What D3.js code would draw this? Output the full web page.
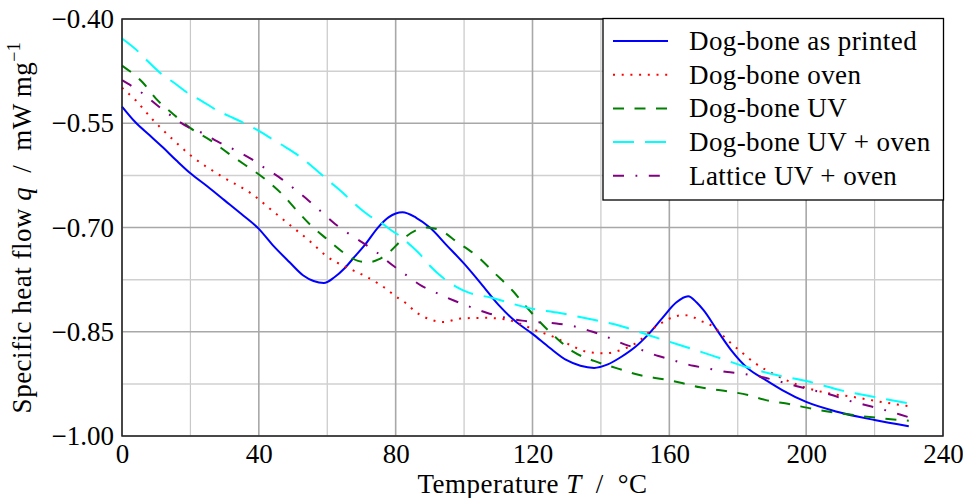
<!DOCTYPE html>
<html>
<head>
<meta charset="utf-8">
<script src="https://cdn.jsdelivr.net/npm/d3@7"></script>
<style>
  html, body { margin: 0; padding: 0; background: #fff; }
  svg { display: block; }
  text { font-family: "Liberation Serif", "Times New Roman", serif; fill: #000; }
</style>
</head>
<body>
<svg id="chart" width="963" height="498"></svg>
<script>
// Temperature axis ticks (°C)
const xMajorTicks = [0, 40, 80, 120, 160, 200, 240];
const xMinorTicks = [20, 60, 100, 140, 180, 220];
// Specific heat flow ticks (mW/mg)
const yMajorTicks = [-1.00, -0.85, -0.70, -0.55, -0.40];
const yMinorTicks = [-0.925, -0.775, -0.625, -0.475];

const seriesNames = ["Dog-bone as printed", "Dog-bone oven", "Dog-bone UV", "Dog-bone UV + oven", "Lattice UV + oven"];

// [temperature, heat flow]
const dogBonePrinted = [[0,-0.526],[4,-0.549],[8,-0.567],[12,-0.585],[16,-0.604],[20,-0.622],[25,-0.641],[30,-0.661],[35,-0.681],[40,-0.702],[44,-0.725],[49,-0.750],[53,-0.769],[56,-0.777],[59,-0.780],[62,-0.772],[65,-0.759],[68,-0.742],[71,-0.725],[75,-0.699],[78,-0.685],[82,-0.678],[86,-0.686],[90,-0.700],[95,-0.726],[100,-0.752],[105,-0.781],[110,-0.811],[115,-0.835],[120,-0.853],[125,-0.873],[130,-0.891],[134,-0.899],[138,-0.902],[142,-0.897],[146,-0.886],[150,-0.872],[154,-0.853],[158,-0.830],[162,-0.808],[165.5,-0.799],[168,-0.808],[170,-0.819],[174,-0.848],[178,-0.876],[183,-0.903],[188,-0.919],[193,-0.934],[200,-0.951],[209,-0.965],[220,-0.977],[230,-0.986]];

const dogBoneOven = [[0,-0.499],[4,-0.517],[9,-0.545],[15,-0.574],[20,-0.596],[29,-0.626],[38,-0.652],[44,-0.676],[50,-0.700],[55,-0.720],[60,-0.742],[66,-0.758],[71.5,-0.771],[76,-0.784],[80,-0.799],[83,-0.809],[86,-0.822],[90,-0.832],[94,-0.836],[99,-0.831],[106,-0.830],[112,-0.832],[116,-0.838],[121,-0.848],[126,-0.857],[131,-0.869],[136,-0.879],[141,-0.881],[146,-0.876],[150,-0.867],[156,-0.843],[161,-0.829],[164,-0.826],[166,-0.827],[169,-0.834],[173,-0.843],[177,-0.862],[181,-0.879],[185,-0.895],[191,-0.912],[199,-0.929],[206,-0.938],[214,-0.944],[222,-0.951],[230,-0.957]];

const dogBoneUV = [[0,-0.467],[6,-0.491],[10,-0.515],[15,-0.537],[20,-0.557],[26,-0.575],[31,-0.593],[36,-0.610],[42,-0.631],[47,-0.653],[51,-0.675],[55,-0.696],[60,-0.717],[65,-0.737],[69,-0.748],[72,-0.750],[75,-0.746],[78,-0.736],[82,-0.717],[86,-0.704],[89,-0.700],[93,-0.704],[98,-0.721],[104,-0.742],[109,-0.766],[114,-0.790],[118,-0.813],[122,-0.835],[127,-0.859],[132,-0.879],[138,-0.892],[145,-0.903],[151,-0.912],[159,-0.919],[163,-0.923],[169,-0.930],[176,-0.935],[183,-0.941],[188,-0.948],[195,-0.954],[202,-0.961],[208,-0.966],[214,-0.970],[221,-0.974],[230,-0.978]];

const dogBoneUVOven = [[0,-0.428],[5,-0.448],[7,-0.458],[12,-0.481],[15,-0.491],[20,-0.509],[23,-0.517],[28,-0.532],[31,-0.539],[37,-0.553],[40,-0.561],[45,-0.576],[48,-0.585],[52,-0.598],[56,-0.614],[60,-0.631],[65,-0.652],[68,-0.666],[72,-0.682],[76,-0.694],[79,-0.705],[81.5,-0.713],[84,-0.724],[87,-0.738],[90,-0.755],[94,-0.773],[98,-0.786],[101,-0.793],[108,-0.801],[119,-0.816],[128,-0.823],[136,-0.831],[146,-0.842],[154,-0.855],[163,-0.869],[173,-0.885],[182,-0.900],[191,-0.912],[201,-0.922],[210,-0.934],[220,-0.944],[230,-0.953]];

const latticeUVOven = [[0,-0.488],[3,-0.497],[6,-0.507],[11,-0.527],[14,-0.538],[19.5,-0.556],[23,-0.563],[29,-0.579],[32,-0.586],[38,-0.602],[41,-0.612],[46.6,-0.630],[49.5,-0.641],[54.5,-0.661],[57.5,-0.674],[62.3,-0.695],[65.4,-0.706],[71,-0.724],[74,-0.734],[79,-0.754],[82.4,-0.766],[87.6,-0.784],[91,-0.792],[97,-0.805],[100.6,-0.812],[106.8,-0.823],[110.5,-0.828],[117,-0.834],[120.7,-0.836],[127,-0.838],[131,-0.841],[137.6,-0.850],[141,-0.856],[148,-0.870],[150.6,-0.874],[156.8,-0.885],[160.4,-0.890],[167,-0.899],[170.4,-0.902],[177,-0.908],[180.6,-0.910],[187,-0.915],[191,-0.920],[197,-0.928],[201,-0.933],[207.5,-0.941],[211,-0.947],[217,-0.955],[221,-0.960],[227.4,-0.969],[230,-0.973]];

const allSeries = [dogBonePrinted, dogBoneOven, dogBoneUV, dogBoneUVOven, latticeUVOven];
const styles = [
  { color: "#0000ff", dash: null },
  { color: "#ff0000", dash: "2,6.7" },
  { color: "#008000", dash: "11,10.5" },
  { color: "#00ffff", dash: "21,11" },
  { color: "#800080", dash: "11,11.5,1.8,11.5" }
];

const FS = 27;
const svg = d3.select("#chart");
const plot = { left: 122, right: 943, top: 19, bottom: 436 };

const x = d3.scaleLinear().domain([0, 240]).range([plot.left, plot.right]);
const y = d3.scaleLinear().domain([-1.00, -0.40]).range([plot.bottom, plot.top]);

const fmtY = v => d3.format(".2f")(v).replace("-", "\u2212");

// minor grid
const grid = svg.append("g");
grid.selectAll(".vmin").data(xMinorTicks).join("line")
  .attr("x1", d => x(d)).attr("x2", d => x(d))
  .attr("y1", plot.top).attr("y2", plot.bottom)
  .attr("stroke", "#c8c8c8").attr("stroke-width", 1.2);
grid.selectAll(".hmin").data(yMinorTicks).join("line")
  .attr("x1", plot.left).attr("x2", plot.right)
  .attr("y1", d => y(d)).attr("y2", d => y(d))
  .attr("stroke", "#d0d0d0").attr("stroke-width", 1.5);
// major grid
grid.selectAll(".vmaj").data(xMajorTicks).join("line")
  .attr("x1", d => x(d)).attr("x2", d => x(d))
  .attr("y1", plot.top).attr("y2", plot.bottom)
  .attr("stroke", "#a8a8a8").attr("stroke-width", 1.6);
grid.selectAll(".hmaj").data(yMajorTicks).join("line")
  .attr("x1", plot.left).attr("x2", plot.right)
  .attr("y1", d => y(d)).attr("y2", d => y(d))
  .attr("stroke", "#a8a8a8").attr("stroke-width", 1.6);

// axes via d3 axis generators (labels only, no tick marks)
const xAxis = svg.append("g")
  .attr("transform", `translate(0,${plot.bottom})`)
  .call(d3.axisBottom(x).tickValues(xMajorTicks).tickSize(0).tickPadding(7).tickFormat(d3.format("d")));
const yAxis = svg.append("g")
  .attr("transform", `translate(${plot.left},0)`)
  .call(d3.axisLeft(y).tickValues(yMajorTicks).tickSize(0).tickPadding(8).tickFormat(fmtY));
[xAxis, yAxis].forEach(g => {
  g.select(".domain").remove();
  g.selectAll("text").attr("font-family", "Liberation Serif, serif").attr("font-size", FS).attr("fill", "#000");
});
xAxis.selectAll("text").attr("dy", "0.75em");

// series
const line = d3.line().x(d => x(d[0])).y(d => y(d[1])).curve(d3.curveMonotoneX);
const lines = svg.append("g");
allSeries.forEach((s, i) => {
  lines.append("path")
    .datum(s)
    .attr("d", line)
    .attr("fill", "none")
    .attr("stroke", styles[i].color)
    .attr("stroke-width", 2)
    .attr("stroke-dasharray", styles[i].dash)
    .attr("stroke-linejoin", "round");
});

// frame
svg.append("rect")
  .attr("x", plot.left).attr("y", plot.top)
  .attr("width", plot.right - plot.left).attr("height", plot.bottom - plot.top)
  .attr("fill", "none").attr("stroke", "#222").attr("stroke-width", 1.5);

// legend
const lg = svg.append("g");
lg.append("rect")
  .attr("x", 603).attr("y", 18.5).attr("width", 340.5).attr("height", 181.5)
  .attr("fill", "#fff").attr("stroke", "#000").attr("stroke-width", 1.3);
seriesNames.forEach((name, i) => {
  const cy = 41 + i * 33.7;
  lg.append("line")
    .attr("x1", 613).attr("x2", 668).attr("y1", cy).attr("y2", cy)
    .attr("stroke", styles[i].color).attr("stroke-width", 2)
    .attr("stroke-dasharray", styles[i].dash);
  lg.append("text")
    .attr("x", 689).attr("y", cy).attr("dy", "0.33em")
    .attr("font-size", FS).attr("letter-spacing", 0.4)
    .text(name);
});

// axis titles
const xt = svg.append("text")
  .attr("x", (plot.left + plot.right) / 2).attr("y", 493)
  .attr("text-anchor", "middle").attr("font-size", FS).attr("letter-spacing", 0.5);
xt.append("tspan").text("Temperature ");
xt.append("tspan").attr("font-style", "italic").text("T");
xt.append("tspan").text("\u2002/\u2002°C");

const yt = svg.append("text")
  .attr("transform", `translate(31,${(plot.top + plot.bottom) / 2}) rotate(-90)`)
  .attr("text-anchor", "middle").attr("font-size", FS).attr("letter-spacing", 0.5);
yt.append("tspan").text("Specific heat flow ");
yt.append("tspan").attr("font-style", "italic").text("q");
yt.append("tspan").text("\u2002/\u2002mW\u2009mg");
yt.append("tspan").attr("font-size", 18).attr("dy", -11).text("\u22121");
</script>
</body>
</html>
